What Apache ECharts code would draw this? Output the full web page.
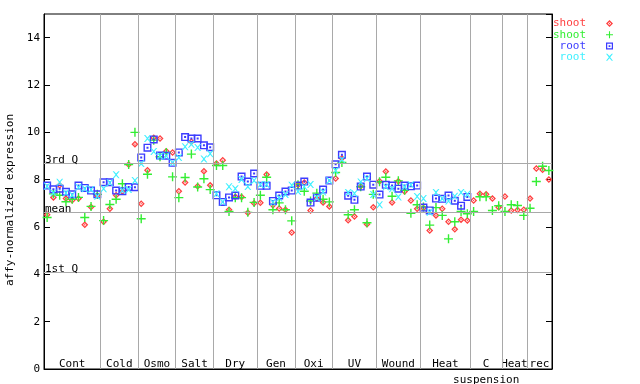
<!DOCTYPE html>
<html><head><meta charset="utf-8">
<script src="https://cdn.jsdelivr.net/npm/echarts@6/dist/echarts.min.js"></script>
<style>html,body{margin:0;padding:0;background:#fff}#c{width:640px;height:384px}</style>
</head><body><div id="c"></div>
<script>
// ---- data ----
const groupLabels = ['Cont','Cold','Osmo','Salt','Dry','Gen','Oxi','UV','Wound','Heat','C\nsuspension','Heat','rec'];
const groupSizes  = [9,6,6,6,7,6,6,7,7,8,5,4,4];
const seriesNames = ['shoot','shoot','root','root'];
const shoot1 = [6.52,7.25,7.76,7.2,7.13,7.2,6.09,6.85,7.33,
  6.22,6.77,7.34,7.5,8.64,9.5,
  6.98,8.4,9.77,9.74,9.2,9.15,
  7.51,7.88,9.6,7.72,8.36,7.76,
  8.68,8.82,6.73,7.28,7.27,6.6,7.0,
  7.02,8.22,6.92,6.78,6.73,5.77,
  7.77,7.88,6.7,7.2,7.03,6.87,
  8.05,8.9,6.28,6.44,7.72,6.12,6.83,
  7.93,8.35,7.04,7.93,7.5,7.12,6.77,
  6.8,5.85,6.49,6.77,6.22,5.9,6.31,6.27,
  7.12,7.41,7.38,7.2,6.83,
  7.29,6.7,6.72,6.73,
  7.2,8.47,8.42,8.01];
const shoot2 = [6.4,7.4,7.34,7.07,7.17,7.25,6.4,6.87,7.38,
  6.27,6.95,7.17,7.83,8.64,10.0,
  6.35,8.23,9.67,8.97,9.15,8.12,
  7.24,8.09,9.08,7.69,8.04,7.58,
  8.6,8.6,6.66,7.24,7.24,6.62,7.04,
  7.34,8.1,6.73,7.02,6.73,6.26,
  7.79,7.51,7.1,7.43,7.17,7.06,
  8.3,8.73,6.52,6.73,7.7,6.18,7.38,
  7.91,8.1,7.3,7.95,7.55,6.58,6.94,
  6.85,6.08,6.82,6.49,5.5,6.22,6.66,6.56,
  6.66,7.28,7.28,6.7,6.9,
  6.66,6.94,6.91,6.49,
  6.79,7.92,8.57,8.39];
const root1 = [7.75,7.59,7.62,7.49,7.38,7.75,7.65,7.54,7.38,
  7.89,7.89,7.54,7.51,7.69,7.68,
  8.94,9.35,9.7,9.02,9.01,8.71,
  9.15,9.8,9.74,9.74,9.45,9.37,
  7.34,7.06,7.25,7.33,8.13,7.92,8.26,
  7.74,7.74,7.1,7.33,7.5,7.54,
  7.75,7.92,7.03,7.24,7.58,7.96,
  8.65,9.05,7.32,7.15,7.71,8.13,7.79,
  7.37,7.78,7.75,7.62,7.75,7.72,7.75,
  6.82,6.7,7.2,7.19,7.33,7.11,6.9,7.27];
const root2 = [7.72,7.44,7.89,7.44,7.35,7.68,7.62,7.58,7.3,
  7.62,7.87,8.21,7.55,7.58,7.96,
  8.68,9.74,9.19,9.0,9.0,8.71,
  8.94,9.39,9.5,9.36,8.87,9.1,
  7.4,7.06,7.7,7.62,8.01,7.71,7.96,
  7.8,7.8,7.05,7.23,7.37,7.76,
  7.5,7.7,7.8,7.24,7.48,7.96,
  8.38,8.85,7.46,7.42,7.9,8.05,7.37,
  6.94,7.7,7.62,7.27,7.7,7.79,7.29,
  7.2,6.62,7.46,7.2,7.1,7.3,7.46,7.38];
const refNames  = ['3rd Q','mean','1st Q'];
const refValues = [8.69,6.62,4.07];
const yMax = 15, yStep = 2;
const yTitle = 'affy-normalized expression';

// ---- build ----
const MONO = 'DejaVu Sans Mono';
const RED = '#ff4040', GREEN = '#33ee33', BLUE = '#3c3cff', CYAN = '#40f0ff';
const DIAMOND = 'path://M3.5,0L7,3.5L3.5,7L0,3.5Z M3.5,1.8L1.8,3.5L3.5,5.2L5.2,3.5Z M3.5,2.7L4.3,3.5L3.5,4.3L2.7,3.5Z';
const PLUS = 'path://M3.8,0H5.2V3.8H9V5.2H5.2V9H3.8V5.2H0V3.8H3.8Z';
const SQUARE = 'path://M0,0H8V8H0Z M1.4,1.4V6.6H6.6V1.4Z M3,3H5V5H3Z';
const CROSS = 'path://M0,0L1.3,0L3.5,2.4L5.7,0L7,0L4.2,3.5L7,7L5.7,7L3.5,4.6L1.3,7L0,7L2.8,3.5Z';

const nSamples = groupSizes.reduce((a,b)=>a+b,0);
const bounds = []; const centers = {}; let acc = 0;
groupSizes.forEach((n,i)=>{
  const s = acc+1, e = acc+n;
  centers[String((s+e)/2)] = groupLabels[i];
  acc += n;
  if (i < groupSizes.length-1) bounds.push(acc+0.5);
});
const toPts = arr => arr.map((v,i)=>[i+1, v]);

const chart = echarts.init(document.getElementById('c'), null, {renderer:'canvas', width:640, height:384});
const mk = (name, arr, sym, size, color) => ({
  type:'scatter', name, data: toPts(arr), symbol: sym, symbolSize: size,
  itemStyle:{color, opacity:1}, z:2, silent:true
});
const keys = seriesNames.map((n,i)=>n+'#'+i);
chart.setOption({
  animation:false,
  textStyle:{fontFamily:MONO},
  grid:{left:44,right:88,top:14,bottom:15,show:true,borderColor:'#000',borderWidth:1,
        backgroundColor:'transparent',containLabel:false,outerBoundsMode:'none'},
  xAxis:{type:'value',min:0.5,max:nSamples+0.5,interval:0.5,
    axisLine:{show:true,lineStyle:{color:'#000'}},axisTick:{show:false},splitLine:{show:false},
    axisLabel:{show:true,margin:-13,fontFamily:MONO,fontSize:11,lineHeight:16,color:'#000',
      formatter: v => centers[String(Math.round(v*2)/2)] || ''}},
  yAxis:[
    {type:'value',min:0,max:yMax,interval:yStep,position:'left',
     axisLine:{show:true,lineStyle:{color:'#000'}},
     axisTick:{show:true,inside:true,length:6,lineStyle:{color:'#000'}},
     splitLine:{show:false},
     axisLabel:{margin:4,fontSize:11,color:'#000',fontFamily:MONO,showMaxLabel:false},
     name:yTitle,nameLocation:'middle',nameGap:27,
     nameTextStyle:{fontFamily:MONO,fontSize:11,color:'#000',padding:[0,17,0,0]}},
    {type:'value',min:0,max:yMax,interval:yStep,position:'right',
     axisLine:{show:true,lineStyle:{color:'#000'}},
     axisTick:{show:true,inside:true,length:6,lineStyle:{color:'#000'}},
     axisLabel:{show:false},splitLine:{show:false}}
  ],
  legend:{orient:'vertical',right:27,top:18,align:'right',itemWidth:7,itemHeight:7,itemGap:0,padding:0,
    selectedMode:false,formatter:n=>n.split('#')[0],
    textStyle:{fontFamily:MONO,fontSize:11,lineHeight:11.2,padding:[0,15,0,0]},
    data:[
      {name:keys[0],textStyle:{color:RED}},
      {name:keys[1],textStyle:{color:GREEN}},
      {name:keys[2],textStyle:{color:BLUE}},
      {name:keys[3],textStyle:{color:CYAN}}
    ]},
  series:[
    {type:'scatter',name:'guides',data:[],z:1,silent:true,
     markLine:{silent:true,symbol:['none','none'],animation:false,
       lineStyle:{color:'#a9a9a9',type:'solid',width:1},
       label:{show:false},
       emphasis:{disabled:true},
       data:[
         ...bounds.map(b=>({xAxis:b})),
         ...refValues.map((v,i)=>({yAxis:v,name:refNames[i],
            label:{show:true,formatter:'{b}',position:'insideStartTop',distance:[1,-2],
                   color:'#000',fontFamily:MONO,fontSize:11}}))
       ]}},
    mk(keys[0], shoot1, DIAMOND, 7, RED),
    mk(keys[1], shoot2, PLUS, 9, GREEN),
    mk(keys[2], root1, SQUARE, 8, BLUE),
    mk(keys[3], root2, CROSS, 7, CYAN)
  ]
});
</script>
</body></html>
